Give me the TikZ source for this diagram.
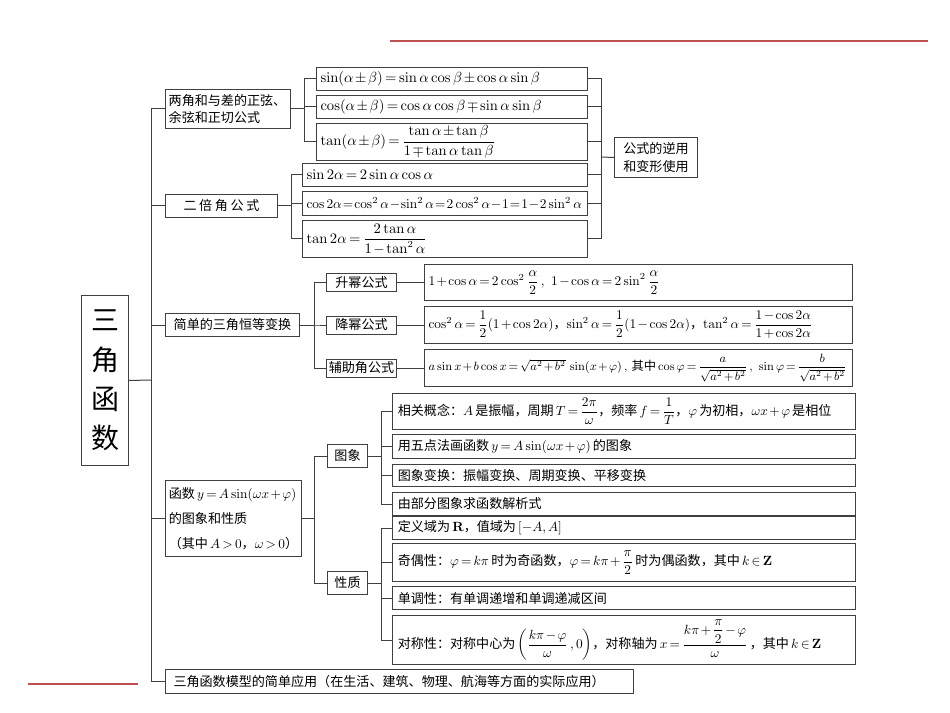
\documentclass[tikz,border=0pt]{standalone}
\usepackage{amsmath,amssymb}
\usepackage[no-math]{fontspec}
\setmainfont{Noto Sans CJK SC}
\usepackage{tikz}
\usetikzlibrary{positioning}
\definecolor{inkgray}{RGB}{64,64,64}
\definecolor{rulered}{RGB}{190,80,78}
\thickmuskip=3mu
\medmuskip=2mu
\relpenalty=10000
\binoppenalty=10000

\begin{document}
\begin{tikzpicture}[x=.75pt, y=-.75pt, font=\fontsize{9.8}{13}\selectfont,
 box/.style={draw=inkgray, line width=.75pt, anchor=north west, inner xsep=3pt, inner ysep=0pt, align=left},
 ctr/.style={box, align=center},
 fml/.style={box, text width=#1},
 link/.style={draw=inkgray, line width=.75pt},
 redline/.style={draw=rulered, line width=1pt}]
\useasboundingbox (0,0) rectangle (950,713);
% decorative rules
\draw[redline] (390,41) -- (928,41);
\draw[redline] (28,684) -- (138,684);
% main title and first level
\node[ctr, minimum width=35.25pt, minimum height=127.5pt, font=\fontsize{21}{29.5}\selectfont] (trig) at (81,295) {三\\角\\函\\数};
\node[box, text width=89pt, minimum height=29.25pt, inner xsep=2.4pt] (sumdiff) at (165,89) {两角和与差的正弦、\\余弦和正切公式};
\node[ctr, minimum width=84pt, minimum height=17.25pt] (double) at (165,194) {二\hspace{2pt}倍\hspace{2pt}角\hspace{2pt}公\hspace{2pt}式};
\node[ctr, minimum width=100.5pt, minimum height=17.25pt] (identity) at (165,313) {简单的三角恒等变换};
\node[box, text width=97pt, minimum height=57pt, inner xsep=2.5pt, font=\fontsize{9.8}{18.8}\selectfont] (graphfn) at (165,480) {函数\,$y=A\sin(\omega x+\varphi)$\\的图象和性质\\（其中\,$A>0$，$\omega>0$）};
\node[box, text width=339pt, minimum height=18pt, inner xsep=6pt] (model) at (165,669) {三角函数模型的简单应用（在生活、建筑、物理、航海等方面的实际应用）};
% sum and difference formulas
\node[fml=197pt, minimum height=17.25pt, font=\fontsize{10.6}{13}\selectfont] (sinsum) at (316,67) {$\sin(\alpha\pm\beta)=\sin\alpha\cos\beta\pm\cos\alpha\sin\beta$};
\node[fml=197pt, minimum height=17.25pt, font=\fontsize{10.6}{13}\selectfont, below=3pt of sinsum.south west, anchor=north west] (cossum) {$\cos(\alpha\pm\beta)=\cos\alpha\cos\beta\mp\sin\alpha\sin\beta$};
\node[fml=197pt, minimum height=27.75pt, font=\fontsize{10.6}{13}\selectfont, below=3pt of cossum.south west, anchor=north west] (tansum) {$\tan(\alpha\pm\beta)=\dfrac{\tan\alpha\pm\tan\beta}{1\mp\tan\alpha\tan\beta}$};
% double angle formulas
\node[fml=207.5pt, minimum height=17.25pt, font=\fontsize{10.6}{13}\selectfont] (sindbl) at (302,163) {$\sin2\alpha=2\sin\alpha\cos\alpha$};
\node[fml=207.5pt, minimum height=18pt, below=3pt of sindbl.south west, anchor=north west] (cosdbl) {$\thickmuskip=1.5mu\medmuskip=1mu\cos2\alpha=\cos^2\alpha-\sin^2\alpha=2\cos^2\alpha-1=1-2\sin^2\alpha$};
\node[fml=207.5pt, minimum height=27.75pt, font=\fontsize{10.6}{13}\selectfont, below=3pt of cosdbl.south west, anchor=north west] (tandbl) {$\tan2\alpha=\dfrac{2\tan\alpha}{1-\tan^2\alpha}$};
\node[ctr, minimum width=62.25pt, minimum height=30pt] (inverse) at (614,137) {公式的逆用\\和变形使用};
% identity transformations
\node[fml=314.75pt, minimum height=27pt] (riseF) at (424,264) {$1+\cos\alpha=2\cos^2\dfrac{\alpha}{2}\,,\ 1-\cos\alpha=2\sin^2\dfrac{\alpha}{2}$};
\node[fml=314.75pt, minimum height=27.75pt, below=3.75pt of riseF.south west, anchor=north west] (lowerF) {$\cos^2\alpha=\dfrac12(1+\cos2\alpha)$，$\sin^2\alpha=\dfrac12(1-\cos2\alpha)$，$\tan^2\alpha=\dfrac{1-\cos2\alpha}{1+\cos2\alpha}$};
\node[fml=314.75pt, minimum height=27.75pt, font=\fontsize{9.2}{12}\selectfont, below=3.75pt of lowerF.south west, anchor=north west] (auxF) {$a\sin x+b\cos x=\sqrt{a^2+b^2}\,\sin(x+\varphi)\,,$ 其中\,$\cos\varphi=\dfrac{a}{\sqrt{a^2+b^2}}\,,\ \sin\varphi=\dfrac{b}{\sqrt{a^2+b^2}}$};
\node[ctr, minimum width=52.5pt, minimum height=13.5pt, inner xsep=1pt, left=20.25pt of riseF] (raise) {升幂公式};
\node[ctr, minimum width=52.5pt, minimum height=13.5pt, inner xsep=1pt, left=20.25pt of lowerF] (lower) {降幂公式};
\node[ctr, minimum width=52.5pt, minimum height=13.5pt, inner xsep=1pt, left=20.25pt of auxF] (aux) {辅助角公式};
% graph and properties
\node[ctr, minimum width=30pt, minimum height=17.25pt, inner xsep=1pt] (graph) at (327,444) {图象};
\node[ctr, minimum width=30pt, minimum height=17.25pt, inner xsep=1pt] (prop) at (327,571) {性质};
\node[fml=339.5pt, minimum height=27pt, inner xsep=4pt] (concept) at (392,393) {相关概念：$A$\,是振幅，周期\,$T=\dfrac{2\pi}{\omega}$，频率\,$f=\dfrac{1}{T}$，$\varphi$\,为初相，$\omega x+\varphi$\,是相位};
\node[fml=339.5pt, minimum height=18pt, inner xsep=4pt, below=3pt of concept.south west, anchor=north west] (fivept) {用五点法画函数\,$y=A\sin(\omega x+\varphi)$\,的图象};
\node[fml=339.5pt, minimum height=17pt, inner xsep=4pt, below=3.5pt of fivept.south west, anchor=north west] (transf) {图象变换：振幅变换、周期变换、平移变换};
\node[fml=339.5pt, minimum height=17.25pt, inner xsep=4pt, below=3.5pt of transf.south west, anchor=north west] (partial) {由部分图象求函数解析式};
\node[fml=339.5pt, minimum height=17.25pt, inner xsep=4pt] (domain) at (392,516) {定义域为\,$\mathbf{R}$，值域为\,$[-A,A]$};
\node[fml=339.5pt, minimum height=28.5pt, inner xsep=4pt, below=2.5pt of domain.south west, anchor=north west] (parity) {奇偶性：$\varphi=k\pi$\,时为奇函数，$\varphi=k\pi+\dfrac{\pi}{2}$\,时为偶函数，其中\,$k\in\mathbf{Z}$};
\node[fml=339.5pt, minimum height=17.25pt, inner xsep=4pt, below=3pt of parity.south west, anchor=north west] (monot) {单调性：有单调递增和单调递减区间};
\node[fml=339.5pt, minimum height=36.75pt, inner xsep=4pt, below=3.5pt of monot.south west, anchor=north west] (symm) {对称性：对称中心为\,$\left(\dfrac{k\pi-\varphi}{\omega}\,,0\right)$，对称轴为\,$x=\dfrac{k\pi+\dfrac{\pi}{2}-\varphi}{\omega}$\,，其中\,$k\in\mathbf{Z}$};
% connectors
\coordinate (spine) at (151,380);
\draw[link] (trig.east) -- (spine);
\foreach \b in {sumdiff,double,identity,graphfn,model}
  \draw[link] (spine) |- (\b.west);
\foreach \f in {sinsum,cossum,tansum}
  \draw[link] (sumdiff.east) -- ++(13,0) |- (\f.west);
\foreach \f in {sindbl,cosdbl,tandbl}
  \draw[link] (double.east) -- ++(13,0) |- (\f.west);
\coordinate (rbus) at (601,157);
\foreach \f in {sinsum,cossum,tansum,sindbl,cosdbl,tandbl}
  \draw[link] (\f.east) -| (rbus);
\draw[link] (rbus) -- (inverse.west);
\foreach \f in {raise,lower,aux}
  \draw[link] (identity.east) -- ++(14,0) |- (\f.west);
\draw[link] (raise) -- (riseF);
\draw[link] (lower) -- (lowerF);
\draw[link] (aux) -- (auxF);
\foreach \f in {graph,prop}
  \draw[link] (graphfn.east) -- ++(12,0) |- (\f.west);
\foreach \f in {concept,fivept,transf,partial}
  \draw[link] (graph.east) -- ++(13,0) |- (\f.west);
\foreach \f in {domain,parity,monot,symm}
  \draw[link] (prop.east) -- ++(13,0) |- (\f.west);
\end{tikzpicture}
\end{document}
